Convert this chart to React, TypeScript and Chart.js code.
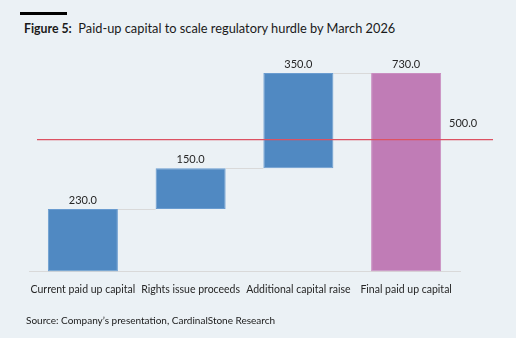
import React, { useEffect, useRef } from "react";
import { Chart, registerables } from "chart.js";

Chart.register(...registerables);

const categories = [
  "Current paid up capital",
  "Rights issue proceeds",
  "Additional capital raise",
  "Final paid up capital",
];
const barStarts = [0, 230, 380, 0];
const barEnds = [230, 380, 730, 730];
const valueLabels = ["230.0", "150.0", "350.0", "730.0"];
const barColors = ["#5089C2", "#5089C2", "#5089C2", "#C07CB6"];
const barBorders = ["#6A9CD0", "#6A9CD0", "#6A9CD0", "#CA8EC1"];
const hurdleValue = 500;
const hurdleLabel = "500.0";

const FONT = "Lato, 'Open Sans', sans-serif";

const waterfallPlugin = {
  id: "waterfallExtras",
  beforeDatasetsDraw(chart: any) {
    const ctx = chart.ctx;
    const meta = chart.getDatasetMeta(0);
    const y = chart.scales.y;
    ctx.save();
    ctx.strokeStyle = "#D9D9D9";
    ctx.lineWidth = 1;
    for (let i = 0; i < meta.data.length - 1; i++) {
      const a = meta.data[i] as any;
      const b = meta.data[i + 1] as any;
      const level = barEnds[i];
      const py = Math.round(y.getPixelForValue(level)) + 0.5;
      ctx.beginPath();
      ctx.moveTo(a.x + a.width / 2, py);
      ctx.lineTo(b.x - b.width / 2, py);
      ctx.stroke();
    }
    ctx.restore();
  },
  afterDatasetsDraw(chart: any) {
    const ctx = chart.ctx;
    const meta = chart.getDatasetMeta(0);
    const y = chart.scales.y;
    const area = chart.chartArea;
    ctx.save();
    ctx.font = `11px ${FONT}`;
    ctx.fillStyle = "#262626";
    ctx.textAlign = "center";
    ctx.textBaseline = "bottom";
    meta.data.forEach((el: any, i: number) => {
      ctx.fillText(valueLabels[i], el.x, Math.min(el.y, el.base) - 3);
    });
    // hurdle line
    const hy = y.getPixelForValue(hurdleValue) + 4;
    ctx.strokeStyle = "#DC5262";
    ctx.lineWidth = 1.3;
    ctx.beginPath();
    ctx.moveTo(area.left + 8, hy);
    ctx.lineTo(area.right + 33, hy);
    ctx.stroke();
    ctx.textAlign = "left";
    ctx.textBaseline = "middle";
    ctx.fillText(hurdleLabel, area.right - 11, hy - 16);
    ctx.restore();
  },
};

export default function App() {
  const ref = useRef<HTMLCanvasElement>(null);
  useEffect(() => {
    document.body.style.margin = "0";
    const chart = new Chart(ref.current!, {
      type: "bar",
      data: {
        labels: categories,
        datasets: [
          {
            data: barStarts.map((s, i) => [s, barEnds[i]]) as any,
            backgroundColor: barColors,
            borderColor: barBorders,
            borderWidth: 1,
            borderSkipped: false,
            categoryPercentage: 1,
            barPercentage: 0.65,
          },
        ],
      },
      options: {
        animation: false,
        responsive: false,
        maintainAspectRatio: false,
        layout: { padding: { left: 29, right: 56, top: 54, bottom: 30 } },
        plugins: {
          legend: { display: false },
          tooltip: { enabled: false },
        },
        scales: {
          x: {
            grid: { display: false, drawTicks: false },
            border: { display: true, color: "#D9D9D9", width: 1 },
            ticks: {
              color: "#262626",
              font: { family: FONT, size: 10.5 },
              padding: 12,
              maxRotation: 0,
              autoSkip: false,
            },
          },
          y: {
            display: false,
            min: 0,
            max: 800,
          },
        },
      },
      plugins: [waterfallPlugin],
    });
    return () => chart.destroy();
  }, []);

  return (
    <div
      style={{
        position: "fixed",
        left: 0,
        top: 0,
        width: 516,
        height: 338,
        background: "#EBF1F5",
        fontFamily: FONT,
        color: "#1A1A1A",
      }}
    >
      <div
        style={{
          position: "absolute",
          left: 20,
          top: 12,
          width: 47,
          height: 3,
          background: "#000",
        }}
      />
      <div
        style={{
          position: "absolute",
          left: 24,
          top: 20,
          fontSize: 12.8,
          whiteSpace: "pre",
          lineHeight: "17px",
        }}
      >
        <b style={{ fontSize: 12.3 }}>Figure 5:</b>
        {"  Paid-up capital to scale regulatory hurdle by March 2026"}
      </div>
      <canvas
        ref={ref}
        width={516}
        height={338}
        style={{ position: "absolute", left: 0, top: 0 }}
      />
      <div
        style={{
          position: "absolute",
          left: 26,
          top: 313,
          fontSize: 10,
          whiteSpace: "pre",
          lineHeight: "14px",
        }}
      >
        Source: Company’s presentation, CardinalStone Research
      </div>
    </div>
  );
}
